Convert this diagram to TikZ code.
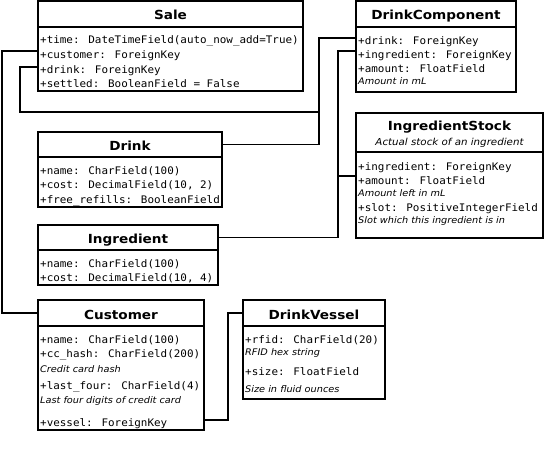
\documentclass[tikz,border=0pt]{standalone}
\usepackage{fontspec}
\usetikzlibrary{calc}
\newfontfamily\ttlfnt{DejaVu Sans}[FakeStretch=1.09]
\newfontfamily\attrfnt{DejaVu Sans Mono}[FakeStretch=1.05]
\newfontfamily\cmtfnt{DejaVu Sans}[FakeStretch=1.07]
\tikzset{
  umlbox/.style={draw, line width=1.8pt, rectangle, inner sep=0pt},
  ttl/.style={font=\ttlfnt\bfseries\fontsize{12.5}{14}\selectfont, text height=12pt, text depth=0pt},
  ttltext/.style={font=\ttlfnt\bfseries\fontsize{12.5}{14}\selectfont, anchor=base, inner sep=0pt},
  subtext/.style={font=\cmtfnt\itshape\fontsize{9.6}{11}\selectfont, anchor=base, inner sep=0pt},
  attr/.style={font=\attrfnt\fontsize{10.4}{12}\selectfont, anchor=base west, inner xsep=2pt, inner ysep=0pt},
  cmt/.style={font=\cmtfnt\itshape\fontsize{9.1}{11}\selectfont, anchor=base west, inner xsep=2pt, inner ysep=0pt},
  link/.style={line width=1.8pt}
}
\begin{document}
\begin{tikzpicture}[x=1pt, y=-1pt]
\useasboundingbox (0,0) rectangle (545,452);

% ---- Sale ----
\node[umlbox, ttl, minimum width=265pt, minimum height=26pt] (salehead) at (170.5,14) {Sale};
\node[umlbox, minimum width=265pt, minimum height=64pt] (salebody) at (170.5,59) {};
\node[attr] (saletime) at (38,44) {+time: DateTimeField(auto\_now\_add=True)};
\node[attr] (salecust) at (38,58.5) {+customer: ForeignKey};
\node[attr] (saledrink) at (38,73) {+drink: ForeignKey};
\node[attr] (salesettled) at (38,87.5) {+settled: BooleanField = False};

% ---- DrinkComponent ----
\node[umlbox, ttl, minimum width=160pt, minimum height=26pt] (dchead) at (436,14) {DrinkComponent};
\node[umlbox, minimum width=160pt, minimum height=65pt] (dcbody) at (436,59.5) {};
\node[attr] (dcdrink) at (356,44.2) {+drink: ForeignKey};
\node[attr] (dcingr) at (356,58.2) {+ingredient: ForeignKey};
\node[attr] (dcamount) at (356,72.2) {+amount: FloatField};
\node[cmt] (dcnote) at (356,84.3) {Amount in mL};

% ---- IngredientStock ----
\node[umlbox, minimum width=187pt, minimum height=39pt] (ishead) at (449.5,132.5) {};
\node[ttltext] (istitle) at (449.5,130.5) {IngredientStock};
\node[subtext] (issub) at (449.5,145.5) {Actual stock of an ingredient};
\node[umlbox, minimum width=187pt, minimum height=86pt] (isbody) at (449.5,195) {};
\node[attr] (isingr) at (356,170.7) {+ingredient: ForeignKey};
\node[attr] (isamount) at (356,184.2) {+amount: FloatField};
\node[cmt] (isnote1) at (356,196.6) {Amount left in mL};
\node[attr] (isslot) at (356,211.7) {+slot: PositiveIntegerField};
\node[cmt] (isnote2) at (356,223.3) {Slot which this ingredient is in};

% ---- Drink ----
\node[umlbox, ttl, minimum width=184pt, minimum height=25pt] (drinkhead) at (130,144.5) {Drink};
\node[umlbox, minimum width=184pt, minimum height=50pt] (drinkbody) at (130,182) {};
\node[attr] (drinkname) at (38,174.2) {+name: CharField(100)};
\node[attr] (drinkcost) at (38,188.7) {+cost: DecimalField(10, 2)};
\node[attr] (drinkfree) at (38,203.2) {+free\_refills: BooleanField};

% ---- Ingredient ----
\node[umlbox, ttl, minimum width=180pt, minimum height=25pt] (ingrhead) at (128,237.5) {Ingredient};
\node[umlbox, minimum width=180pt, minimum height=35pt] (ingrbody) at (128,267.5) {};
\node[attr] (ingrname) at (38,267) {+name: CharField(100)};
\node[attr] (ingrcost) at (38,281.5) {+cost: DecimalField(10, 4)};

% ---- Customer ----
\node[umlbox, ttl, minimum width=166pt, minimum height=26pt] (custhead) at (121,313) {Customer};
\node[umlbox, minimum width=166pt, minimum height=104pt] (custbody) at (121,378) {};
\node[attr] (custname) at (38,343) {+name: CharField(100)};
\node[attr] (custcc) at (38,357.5) {+cc\_hash: CharField(200)};
\node[cmt] (custnote1) at (38,372) {Credit card hash};
\node[attr] (custlast) at (38,389.5) {+last\_four: CharField(4)};
\node[cmt] (custnote2) at (38,403.5) {Last four digits of credit card};
\node[attr] (custvessel) at (38,426.5) {+vessel: ForeignKey};

% ---- DrinkVessel ----
\node[umlbox, ttl, minimum width=142pt, minimum height=26pt] (dvhead) at (314,313) {DrinkVessel};
\node[umlbox, minimum width=142pt, minimum height=73pt] (dvbody) at (314,362.5) {};
\node[attr] (dvrfid) at (243,343) {+rfid: CharField(20)};
\node[cmt] (dvnote1) at (243,355.5) {RFID hex string};
\node[attr] (dvsize) at (243,375.5) {+size: FloatField};
\node[cmt] (dvnote2) at (243,392) {Size in fluid ounces};

% ---- connectors ----
\coordinate (jdrink) at (319,112);
\draw[link] ($(salecust.base west)+(0,-7.5)$) -- ++(-36,0) |- (custhead.west);
\draw[link] ($(saledrink.base west)+(0,-6)$) -- ++(-18,0) |- (jdrink) |- (drinkhead.east);
\draw[link] ($(dcdrink.base west)+(0,-6.2)$) -- ++(-37,0) |- (drinkhead.east);
\draw[link] ($(dcingr.base west)+(0,-7.2)$) -- ++(-18,0) |- (ingrhead.east);
\draw[link] ($(isingr.base west)+(0,5.3)$) -- ++(-18,0) |- (ingrhead.east);
\draw[link] ($(custbody.east |- custvessel.base)+(0,-6.5)$) -- ++(23,0) |- (dvhead.west);
\end{tikzpicture}
\end{document}
